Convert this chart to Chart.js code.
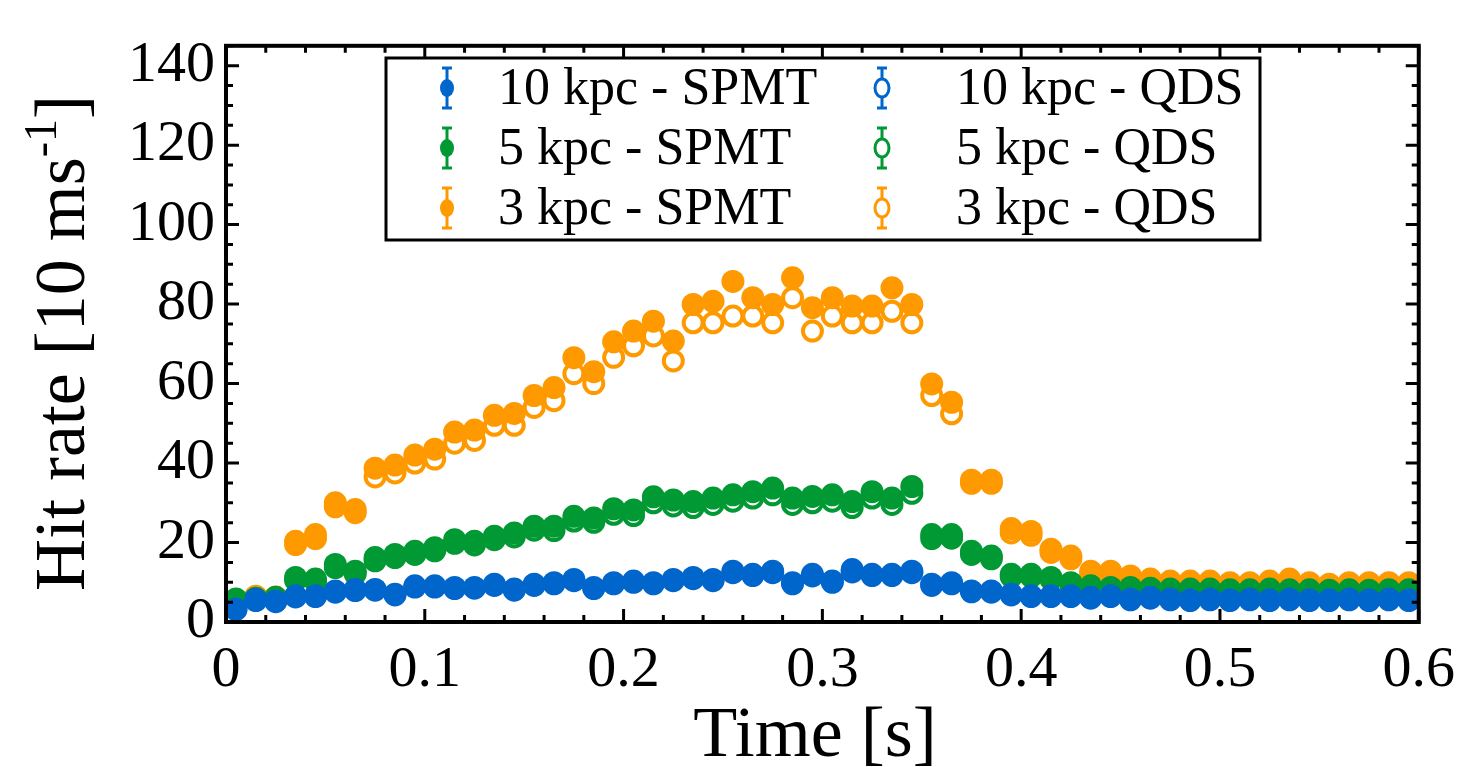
<!DOCTYPE html>
<html>
<head>
<meta charset="utf-8">
<script src="https://cdn.jsdelivr.net/npm/chart.js@4.4.0/dist/chart.umd.min.js"></script>
<style>
  html, body { margin: 0; padding: 0; background: #fff; }
  canvas { display: block; }
</style>
</head>
<body>
<canvas id="graph" width="1469" height="767"></canvas>
<script>
// temps (centre des bins de 10 ms)
const times = [
  0.005, 0.015, 0.025, 0.035, 0.045, 0.055, 0.065, 0.075, 0.085, 0.095,
  0.105, 0.115, 0.125, 0.135, 0.145, 0.155, 0.165, 0.175, 0.185, 0.195,
  0.205, 0.215, 0.225, 0.235, 0.245, 0.255, 0.265, 0.275, 0.285, 0.295,
  0.305, 0.315, 0.325, 0.335, 0.345, 0.355, 0.365, 0.375, 0.385, 0.395,
  0.405, 0.415, 0.425, 0.435, 0.445, 0.455, 0.465, 0.475, 0.485, 0.495,
  0.505, 0.515, 0.525, 0.535, 0.545, 0.555, 0.565, 0.575, 0.585, 0.595
];

const spmt10 = [
  3.3, 5.7, 5.3, 6.6, 6.6, 7.8, 8.2, 8.2, 7.0, 9.1,
  9.1, 8.7, 8.7, 9.5, 8.3, 9.5, 9.9, 10.7, 8.7, 9.9,
  10.3, 9.9, 10.7, 11.2, 10.7, 12.8, 12.0, 12.8, 9.9, 12.0,
  10.3, 13.2, 12.0, 12.0, 12.8, 9.5, 9.9, 7.8, 7.8, 7.0,
  6.6, 6.6, 6.6, 6.2, 6.6, 5.8, 6.2, 5.8, 5.6, 5.8,
  5.6, 5.8, 5.6, 5.8, 5.6, 5.6, 5.8, 5.6, 5.8, 5.6
];
const qds10 = [
  3.1, 5.4, 5.1, 6.3, 6.4, 7.5, 7.9, 8.0, 6.8, 8.8,
  8.8, 8.4, 8.5, 9.2, 8.0, 9.2, 9.6, 10.4, 8.4, 9.6,
  10.0, 9.6, 10.4, 10.9, 10.4, 12.4, 11.7, 12.4, 9.6, 11.6,
  10.0, 12.6, 11.7, 11.7, 12.4, 9.2, 9.6, 7.6, 7.5, 6.8,
  6.4, 6.4, 6.4, 6.0, 6.4, 5.6, 6.0, 5.6, 5.4, 5.6,
  5.4, 5.6, 5.4, 5.6, 5.4, 5.4, 5.6, 5.4, 5.6, 5.4
];
const spmt5 = [
  5.8, 6.0, 6.2, 11.2, 10.8, 14.5, 12.8, 16.2, 17.0, 17.8,
  18.7, 20.7, 20.3, 21.6, 22.4, 24.1, 24.1, 26.6, 26.2, 28.5,
  28.2, 31.5, 30.7, 30.3, 31.2, 32.0, 32.8, 33.7, 31.2, 31.6,
  32.0, 30.3, 32.8, 31.2, 34.1, 22.0, 22.0, 17.8, 16.6, 12.0,
  12.0, 11.2, 9.9, 9.1, 8.7, 8.7, 8.5, 8.3, 8.3, 8.3,
  8.1, 8.1, 8.3, 8.1, 8.1, 8.0, 8.1, 8.0, 8.1, 8.1
];
const qds5 = [
  5.4, 5.6, 5.8, 10.5, 10.1, 13.7, 12.1, 15.4, 16.2, 17.0,
  17.9, 19.8, 19.4, 20.7, 21.4, 23.1, 23.0, 25.4, 25.1, 27.1,
  26.8, 30.0, 29.2, 28.8, 29.6, 30.4, 31.2, 32.0, 29.6, 30.0,
  30.4, 28.8, 31.2, 29.6, 32.4, 21.0, 21.1, 17.0, 15.9, 11.4,
  11.4, 10.7, 9.4, 8.7, 8.3, 8.3, 8.1, 7.9, 7.9, 7.9,
  7.7, 7.7, 7.9, 7.7, 7.7, 7.6, 7.7, 7.6, 7.7, 7.7
];
const spmt3 = [
  4.8, 6.5, 6.3, 20.3, 22.0, 30.0, 28.3, 38.7, 39.5, 42.0,
  43.5, 47.8, 48.3, 52.0, 52.5, 57.0, 59.0, 66.5, 63.0, 70.5,
  73.2, 75.7, 70.7, 79.9, 80.7, 85.7, 81.6, 79.9, 86.6, 79.1,
  81.6, 79.5, 79.5, 84.1, 79.9, 59.9, 55.3, 35.7, 35.7, 23.5,
  22.8, 18.3, 16.6, 12.8, 12.8, 11.6, 10.8, 10.3, 10.3, 10.3,
  9.9, 9.9, 10.3, 10.8, 9.9, 9.5, 9.9, 9.9, 9.9, 9.9
];
const qds3 = [
  4.5, 6.0, 5.9, 19.5, 21.0, 29.0, 27.5, 36.5, 37.5, 40.0,
  41.0, 45.0, 45.7, 49.5, 49.5, 54.0, 55.7, 62.5, 60.0, 66.6,
  69.5, 72.0, 65.7, 75.3, 75.3, 77.0, 77.0, 75.3, 81.6, 73.2,
  77.0, 75.3, 75.3, 78.2, 75.3, 57.0, 52.4, 34.9, 34.9, 22.4,
  21.8, 17.5, 15.9, 12.2, 12.2, 11.0, 10.2, 9.8, 9.7, 9.8,
  9.4, 9.4, 9.7, 10.1, 9.4, 9.0, 9.4, 9.4, 9.4, 9.3
];

const xTicks = [0, 0.1, 0.2, 0.3, 0.4, 0.5, 0.6];
const xTickLabels = ['0', '0.1', '0.2', '0.3', '0.4', '0.5', '0.6'];
const yTicks = [0, 20, 40, 60, 80, 100, 120, 140];
const yTickLabels = ['0', '20', '40', '60', '80', '100', '120', '140'];

const BLUE = '#0066cc';
const GREEN = '#009933';
const ORANGE = '#ff9900';
const SERIF = '"Liberation Serif", "Times New Roman", serif';

function toPoints(values) {
    return times.map((t, i) => ({ x: t, y: values[i] }));
}

// marqueurs pleins (SPMT) et creux (QDS)
function filledSet(label, values, color) {
    return {
        label: label,
        data: toPoints(values),
        pointRadius: 11.5,
        pointBackgroundColor: color,
        pointBorderColor: color,
        pointBorderWidth: 0,
        showLine: false,
        filled: true,
        color: color
    };
}
function openSet(label, values, color) {
    return {
        label: label,
        data: toPoints(values),
        pointRadius: 9.5,
        pointBackgroundColor: '#ffffff',
        pointBorderColor: color,
        pointBorderWidth: 4,
        showLine: false,
        filled: false,
        color: color
    };
}

// le premier dataset est dessine au dessus
const datasets = [
    filledSet('10 kpc - SPMT', spmt10, BLUE),
    openSet('10 kpc - QDS', qds10, BLUE),
    filledSet('5 kpc - SPMT', spmt5, GREEN),
    openSet('5 kpc - QDS', qds5, GREEN),
    filledSet('3 kpc - SPMT', spmt3, ORANGE),
    openSet('3 kpc - QDS', qds3, ORANGE)
];

// cadre, graduations vers l'interieur et titres
const framePlugin = {
    id: 'framePlugin',
    afterDatasetsDraw(chart) {
        const ctx = chart.ctx;
        const a = chart.chartArea;
        const xs = chart.scales.x;
        const ys = chart.scales.y;
        ctx.save();
        ctx.strokeStyle = '#000';
        ctx.lineCap = 'butt';

        // graduations x
        ctx.lineWidth = 3;
        for (let k = 0; k <= 30; k++) {
            const v = k * 0.02;
            const px = xs.getPixelForValue(v);
            const len = (k % 5 === 0) ? 13 : 7;
            ctx.beginPath();
            ctx.moveTo(px, a.bottom); ctx.lineTo(px, a.bottom - len);
            ctx.moveTo(px, a.top); ctx.lineTo(px, a.top + len);
            ctx.stroke();
        }
        // graduations y
        for (let k = 0; k <= 29; k++) {
            const v = k * 5;
            const py = ys.getPixelForValue(v);
            const len = (k % 4 === 0) ? 13 : 7;
            ctx.beginPath();
            ctx.moveTo(a.left, py); ctx.lineTo(a.left + len, py);
            ctx.moveTo(a.right, py); ctx.lineTo(a.right - len, py);
            ctx.stroke();
        }

        // cadre
        ctx.lineWidth = 4;
        ctx.strokeRect(a.left, a.top, a.right - a.left, a.bottom - a.top);

        // titre axe x
        ctx.fillStyle = '#000';
        ctx.font = '72px ' + SERIF;
        ctx.textAlign = 'center';
        ctx.textBaseline = 'alphabetic';
        ctx.fillText('Time [s]', 815, 756);

        // titre axe y avec exposant
        const main = 'Hit rate [10 ms';
        const sup = '-1';
        const end = ']';
        ctx.font = '72px ' + SERIF;
        const wMain = ctx.measureText(main).width;
        const wEnd = ctx.measureText(end).width;
        ctx.font = '46px ' + SERIF;
        const wSup = ctx.measureText(sup).width;
        const total = wMain + wSup + wEnd;
        ctx.translate(84, 343);
        ctx.rotate(-Math.PI / 2);
        ctx.textAlign = 'left';
        let x0 = -total / 2;
        ctx.font = '72px ' + SERIF;
        ctx.fillText(main, x0, 0);
        ctx.font = '46px ' + SERIF;
        ctx.fillText(sup, x0 + wMain, -28);
        ctx.font = '72px ' + SERIF;
        ctx.fillText(end, x0 + wMain + wSup, 0);
        ctx.restore();
    }
};

// legende dans le graphique, deux colonnes
const legendPlugin = {
    id: 'legendPlugin',
    afterDraw(chart) {
        const ctx = chart.ctx;
        const boxX = 386, boxY = 58, boxW = 874, boxH = 182;
        ctx.save();
        ctx.fillStyle = '#fff';
        ctx.fillRect(boxX, boxY, boxW, boxH);
        ctx.strokeStyle = '#000';
        ctx.lineWidth = 3;
        ctx.strokeRect(boxX, boxY, boxW, boxH);

        const cols = [{ mx: 447, tx: 498 }, { mx: 882, tx: 956 }];
        const rows = [88, 148, 208];
        const order = [[0, 2, 4], [1, 3, 5]];
        order.forEach((col, c) => {
            col.forEach((di, r) => {
                const ds = chart.data.datasets[di];
                const cy = rows[r];
                const mx = cols[c].mx;
                ctx.strokeStyle = ds.color;
                ctx.lineWidth = 3;
                ctx.beginPath();
                ctx.moveTo(mx, cy - 20); ctx.lineTo(mx, cy + 20);
                ctx.moveTo(mx - 5, cy - 20); ctx.lineTo(mx + 5, cy - 20);
                ctx.moveTo(mx - 5, cy + 20); ctx.lineTo(mx + 5, cy + 20);
                ctx.stroke();
                ctx.beginPath();
                ctx.ellipse(mx, cy, 7, 9, 0, 0, Math.PI * 2);
                if (ds.filled) {
                    ctx.fillStyle = ds.color;
                    ctx.fill();
                } else {
                    ctx.fillStyle = '#fff';
                    ctx.fill();
                    ctx.lineWidth = 3;
                    ctx.stroke();
                }
                ctx.fillStyle = '#000';
                ctx.font = '52px ' + SERIF;
                ctx.textAlign = 'left';
                ctx.textBaseline = 'middle';
                ctx.fillText(ds.label, cols[c].tx, cy + 2);
            });
        });
        ctx.restore();
    }
};

window.onload = function () {
    new Chart(document.getElementById('graph'), {
        type: 'scatter',
        data: { datasets: datasets },
        options: {
            responsive: false,
            animation: false,
            events: [],
            devicePixelRatio: 1,
            layout: { padding: { left: 0, top: 42, right: 43, bottom: 0 } },
            plugins: {
                legend: { display: false },
                tooltip: { enabled: false }
            },
            scales: {
                x: {
                    type: 'linear',
                    min: 0,
                    max: 0.6,
                    grid: { display: false, drawTicks: false },
                    border: { display: false },
                    afterBuildTicks: s => { s.ticks = xTicks.map(v => ({ value: v })); },
                    afterFit: s => { s.height = 145; },
                    ticks: {
                        autoSkip: false,
                        maxRotation: 0,
                        padding: 14,
                        color: '#000',
                        font: { family: SERIF, size: 58 },
                        callback: (v, i) => xTickLabels[i]
                    }
                },
                y: {
                    type: 'linear',
                    min: 0,
                    max: 145,
                    grid: { display: false, drawTicks: false },
                    border: { display: false },
                    afterBuildTicks: s => { s.ticks = yTicks.map(v => ({ value: v })); },
                    afterFit: s => { s.width = 226; },
                    ticks: {
                        autoSkip: false,
                        padding: 11,
                        color: '#000',
                        font: { family: SERIF, size: 58 },
                        callback: (v, i) => yTickLabels[i]
                    }
                }
            }
        },
        plugins: [framePlugin, legendPlugin]
    });
};
</script>
</body>
</html>
